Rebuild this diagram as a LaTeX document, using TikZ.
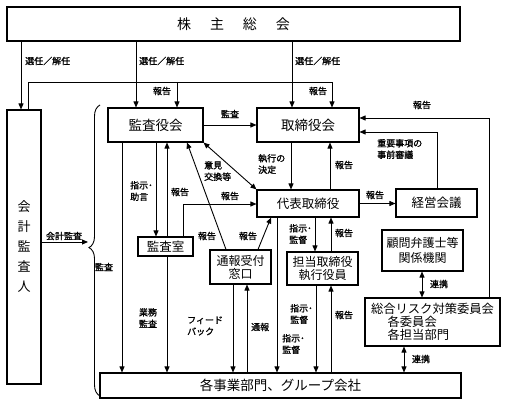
\documentclass[tikz,border=0pt]{standalone}
\usepackage{fontspec}
\setmainfont{Noto Sans CJK JP}[AutoFakeBold=1.1]
\usetikzlibrary{arrows.meta,decorations.pathreplacing,calc}
\begin{document}
\begin{tikzpicture}[x=1pt,y=-1pt,
 box/.style={draw,line width=1.1pt,inner sep=0pt,align=center,font=\fontsize{12.5}{13}\selectfont},
 arr/.style={line width=0.9pt,-{Triangle[length=6pt,width=5pt]}},
 darr/.style={line width=0.9pt,{Triangle[length=6pt,width=5pt]}-{Triangle[length=6pt,width=5pt]}},
 ln/.style={line width=0.9pt},
 lbl/.style={inner sep=0pt,font=\fontsize{9}{11.5}\selectfont\bfseries,align=left},
]
\useasboundingbox (0,0) rectangle (507,406);
% boxes
\node[box,minimum width=453pt,minimum height=34pt,font=\fontsize{14}{16}\selectfont] (sh) at (233.5,24) {株\hspace{1.35em}主\hspace{1.35em}総\hspace{1.35em}会};
\node[box,minimum width=34pt,minimum height=274pt,font=\fontsize{13}{20}\selectfont] (kaikei) at (24,247) {会\\計\\監\\査\\人};
\node[box,minimum width=95pt,minimum height=34pt,font=\fontsize{13.5}{15}\selectfont] (kansayaku) at (155.5,125) {監査役会};
\node[box,minimum width=102pt,minimum height=34pt,font=\fontsize{13.5}{15}\selectfont] (torishimari) at (308,125) {取締役会};
\node[box,minimum width=102pt,minimum height=27pt] (daihyo) at (308,203.5) {代表取締役};
\node[box,minimum width=81pt,minimum height=28pt] (keiei) at (436.5,203) {経営会議};
\node[box,minimum width=55pt,minimum height=19pt] (kansashitsu) at (165.5,246.5) {監査室};
\node[box,minimum width=61pt,minimum height=34pt,font=\fontsize{12}{13}\selectfont] (tsuho) at (240.5,267) {通報受付\\窓口};
\node[box,minimum width=71pt,minimum height=33pt,font=\fontsize{12}{13}\selectfont] (tanto) at (322.5,268.5) {担当取締役\\執行役員};
\node[box,minimum width=81pt,minimum height=41pt,font=\fontsize{12}{14.5}\selectfont] (komon) at (422.5,250.5) {顧問弁護士等\\関係機関};
\node[box,minimum width=135pt,minimum height=48pt,align=left,font=\fontsize{12.3}{13}\selectfont] (risk) at (432.5,322) {総合リスク対策委員会\\\hspace*{1.35em}各委員会\\\hspace*{1.35em}各担当部門};
\node[box,minimum width=361pt,minimum height=25pt,font=\fontsize{13.5}{15}\selectfont] (jigyo) at (280.5,385.5) {各事業部門、グループ会社};
% shareholders
\draw[arr] (sh.south -| 21,0) -- (kaikei.north -| 21,0);
\node[lbl,anchor=west] (l1) at (25,61) {選任／解任};
\draw[arr] (sh.south -| 136,0) -- (kansayaku.north -| 136,0);
\node[lbl,anchor=west] (l2) at (139,61) {選任／解任};
\draw[arr] (sh.south -| 292,0) -- (torishimari.north -| 292,0);
\node[lbl,anchor=west] (l3) at (295,61) {選任／解任};
% auditor report line
\coordinate (rp1) at (28,82);
\coordinate (rp2) at (332,82);
\coordinate (rp3) at (177,82);
\draw[arr] (kaikei.north -| rp1) -- (rp1) -- (rp2) -- (torishimari.north -| rp2);
\draw[arr] (rp3) -- (kansayaku.north -| rp3);
\node[lbl] (l4) at (162,91) {報告};
\node[lbl] (l5) at (318,91) {報告};
% top row
\draw[arr] (kansayaku.east) -- (torishimari.west);
\node[lbl] (l6) at (230,114) {監査};
\draw[arr] (risk.north -| 489,0) |- (torishimari.east |- 0,118);
\node[lbl] (l7) at (422,105) {報告};
\draw[arr] (keiei.north -| 437,0) |- (torishimari.east |- 0,132);
\node[lbl,anchor=west] (l8) at (377,149) {重要事項の\\事前審議};
\draw[arr] (torishimari.south -| 291,0) -- (daihyo.north -| 291,0);
\node[lbl,anchor=west] (l9) at (258,164) {執行の\\決定};
\draw[arr] (daihyo.north -| 330,0) -- (torishimari.south -| 330,0);
\node[lbl] (l10) at (344,165) {報告};
\draw[arr] (daihyo.east) -- (keiei.west |- daihyo.east);
\node[lbl] (l11) at (375,195) {報告};
\draw[darr] (kansayaku.south east) -- (daihyo.north west);
\node[lbl,anchor=west] (l12) at (204,171) {意見\\交換等};
% audit office
\draw[arr] (kansayaku.south -| 156,0) -- (kansashitsu.north -| 156,0);
\node[lbl,anchor=west] (l13) at (130,191) {指示･\\助言};
\draw[arr] (kansashitsu.north -| 167,0) -- (kansayaku.south -| 167,0);
\node[lbl] (l14) at (180,192) {報告};
\draw[arr] (kansashitsu.north -| 183,0) |- (daihyo.west |- 0,204);
\node[lbl] (l15) at (230,196) {報告};
\draw[arr] (kansayaku.south -| 122,0) -- (jigyo.north -| 122,0);
\node[lbl] (l16) at (104,267) {監査};
\draw[arr] (kansashitsu.south -| 167,0) -- (jigyo.north -| 167,0);
\node[lbl,align=center] (l17) at (148,318) {業務\\監査};
% accounting audit
\coordinate (bt) at (88,242);
\draw[arr] (kaikei.east |- bt) -- (bt);
\node[lbl] (l18) at (64,236) {会計監査};
\draw[ln,decorate,decoration={brace,amplitude=11pt,aspect=0.51}] (100,396) -- (100,105);
% whistleblowing
\draw[arr] (tsuho.north -| 226,0) -- (kansayaku.south -| 187,0);
\node[lbl] (l19) at (207,236) {報告};
\draw[arr] (tsuho.north -| 258,0) -- (daihyo.south -| 271,0);
\node[lbl] (l20) at (248,236) {報告};
\draw[arr] (tsuho.south -| 233,0) -- (jigyo.north -| 233,0);
\node[lbl,anchor=west] (l21) at (187,326) {フィード\\バック};
\draw[arr] (jigyo.north -| 247,0) -- (tsuho.south -| 247,0);
\node[lbl,anchor=west] (l22) at (251,327) {通報};
% executives
\draw[arr] (daihyo.south -| 277,0) -- (jigyo.north -| 277,0);
\node[lbl,anchor=west] (l23) at (282,344) {指示･\\監督};
\draw[arr] (daihyo.south -| 315,0) -- (tanto.north -| 315,0);
\node[lbl,anchor=west] (l24) at (289,234) {指示･\\監督};
\draw[arr] (tanto.north -| 331,0) -- (daihyo.south -| 331,0);
\node[lbl] (l25) at (344,233) {報告};
\draw[arr] (tanto.south -| 316,0) -- (jigyo.north -| 316,0);
\node[lbl,anchor=west] (l26) at (290,314) {指示･\\監督};
\draw[arr] (jigyo.north -| 331,0) -- (tanto.south -| 331,0);
\node[lbl] (l27) at (344,315) {報告};
% cooperation
\draw[darr] (komon.south -| 422,0) -- (risk.north -| 422,0);
\node[lbl] (l28) at (439,284) {連携};
\draw[darr] (risk.south -| 404,0) -- (jigyo.north -| 404,0);
\node[lbl] (l29) at (421,359) {連携};
\end{tikzpicture}
\end{document}
